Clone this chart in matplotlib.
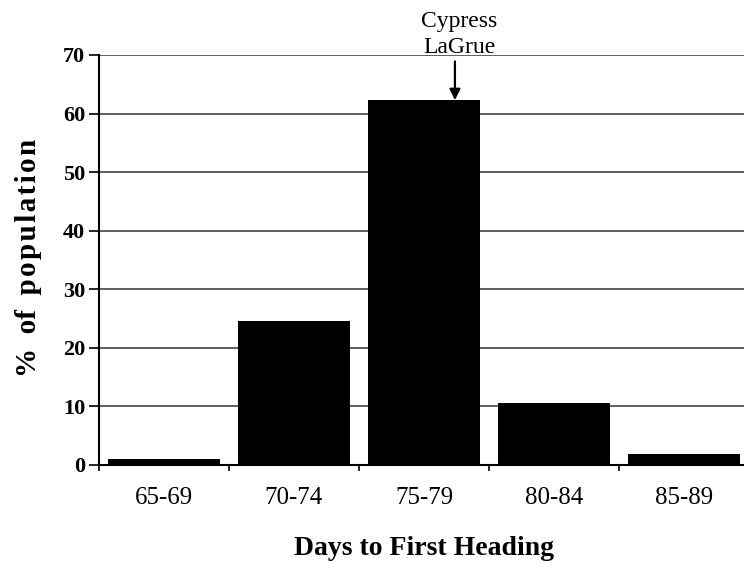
import matplotlib
matplotlib.use("Agg")
import matplotlib.pyplot as plt
import numpy as np

categories = ["65-69", "70-74", "75-79", "80-84", "85-89"]
values = [1.0, 24.6, 62.3, 10.6, 1.9]
yticks = [0, 10, 20, 30, 40, 50, 60, 70]

plt.rcParams['font.family'] = ['Liberation Serif', 'DejaVu Serif']

fig = plt.figure(figsize=(7.44, 5.63), dpi=100)
W, H = 744, 563
left, right, top, bottom = 99, 749, 55, 465
ax = fig.add_axes([left / W, 1 - bottom / H, (right - left) / W, (bottom - top) / H])

x = np.arange(len(categories))
ax.bar(x, values, width=0.86, color="black", zorder=3)

ax.set_xlim(-0.5, len(categories) - 0.5)
ax.set_ylim(0, 70)
ax.set_yticks(yticks)
ax.set_yticklabels([str(v) for v in yticks], fontsize=16, fontweight="bold")
ax.yaxis.grid(True, color="#444444", linewidth=1.2, zorder=0)
ax.set_xticks(x)
ax.set_xticklabels(categories, fontsize=18)
ax.set_xticks(np.arange(len(categories) + 1) - 0.5, minor=True)
ax.tick_params(axis="x", which="major", length=0, pad=16)
ax.tick_params(axis="x", which="minor", length=4, width=1.2, direction="out")
ax.tick_params(axis="y", length=7, width=1.2, direction="out", pad=3)

for s in ["top", "right"]:
    ax.spines[s].set_visible(False)
ax.spines["left"].set_linewidth(1.5)
ax.spines["bottom"].set_linewidth(1.5)

ax.set_xlabel("Days to First Heading", fontsize=20, fontweight="bold", labelpad=19)
ylab = "%  of  " + "\u200a".join("population")
ax.set_ylabel(ylab, fontsize=21, fontweight="bold")
ax.yaxis.set_label_coords(-57 / (right - left), (465 - 258) / (bottom - top))

ax.text(2.27, 70.3, "Cypress\nLaGrue", ha="center", va="baseline",
        fontsize=17, linespacing=1.3, zorder=5)
ax.annotate("", xy=(2.238, values[2]), xytext=(2.238, 68.9),
            arrowprops=dict(arrowstyle="-|>", color="black", lw=1.6,
                            shrinkA=0, shrinkB=0, mutation_scale=16),
            annotation_clip=False)

fig.savefig("out.png", dpi=100)
